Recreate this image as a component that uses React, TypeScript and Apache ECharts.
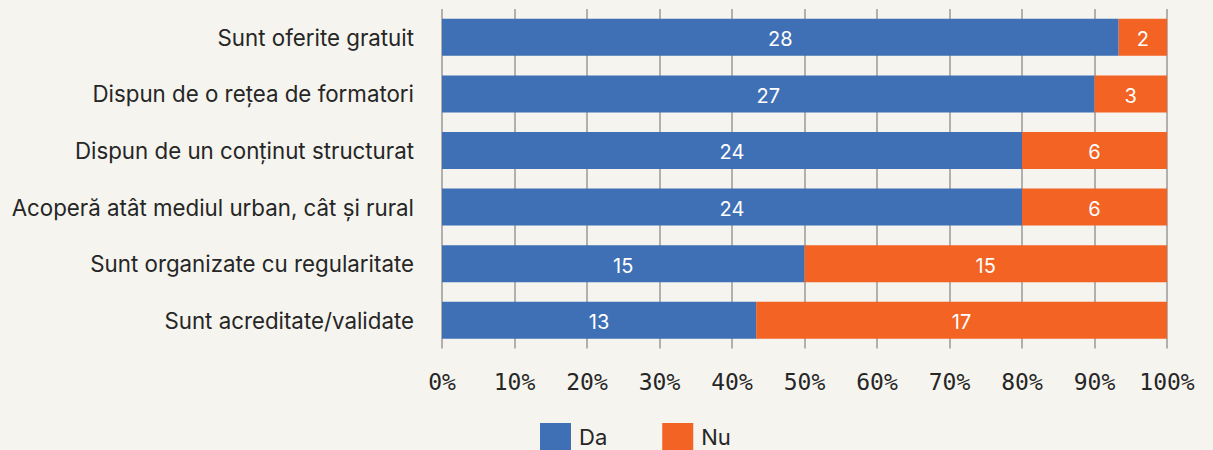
import React, { useEffect, useRef } from "react";
import * as echarts from "echarts";

const categories = [
  "Sunt oferite gratuit",
  "Dispun de o rețea de formatori",
  "Dispun de un conținut structurat",
  "Acoperă atât mediul urban, cât și rural",
  "Sunt organizate cu regularitate",
  "Sunt acreditate/validate",
];
const daCounts = [28, 27, 24, 24, 15, 13];
const nuCounts = [2, 3, 6, 6, 15, 17];
const xTicks = [0, 10, 20, 30, 40, 50, 60, 70, 80, 90, 100];

const BLUE = "#3f6fb5";
const ORANGE = "#f26324";
const BG = "#f5f4ee";
const TEXT = "#262626";

export default function App() {
  const ref = useRef<HTMLDivElement>(null);
  useEffect(() => {
    document.body.style.margin = "0";
    const chart = echarts.init(ref.current!, null, { renderer: "svg" });
    const pct = (a: number[], i: number) => (a[i] / (daCounts[i] + nuCounts[i])) * 100;
    const label = (arr: number[]) => ({
      show: true,
      position: "inside",
      color: "#fff",
      fontSize: 20,
      fontFamily: "Inter",
      offset: [0, 2],
      formatter: (p: any) => String(arr[p.dataIndex]),
    });
    chart.setOption({
      animation: false,
      backgroundColor: BG,
      textStyle: { fontFamily: "Inter" },
      grid: { left: 442, right: 46, top: 9, bottom: 101.5, containLabel: false },
      legend: {
        left: 540,
        top: 423,
        padding: 0,
        icon: "rect",
        itemWidth: 31,
        itemHeight: 28,
        itemGap: 55,
        textStyle: { fontSize: 22, color: TEXT, fontFamily: "Inter", padding: [0, 0, 0, 3] },
        data: ["Da", "Nu"],
      },
      xAxis: {
        type: "value",
        min: xTicks[0],
        max: xTicks[xTicks.length - 1],
        interval: 10,
        axisLine: { show: false },
        axisTick: { show: false },
        splitLine: { show: true, lineStyle: { color: "#9a9a9a", width: 1.5 } },
        axisLabel: {
          formatter: "{value}%",
          margin: 22,
          fontSize: 23,
          color: TEXT,
          fontFamily: "DejaVu Sans Mono",
        },
      },
      yAxis: {
        type: "category",
        inverse: true,
        data: categories,
        axisLine: { show: false },
        axisTick: { show: false },
        axisLabel: { margin: 28, fontSize: 22.3, color: TEXT, fontFamily: "Inter" },
      },
      series: [
        {
          name: "Da",
          type: "bar",
          stack: "t",
          barWidth: 37,
          itemStyle: { color: BLUE },
          label: label(daCounts),
          data: daCounts.map((_, i) => pct(daCounts, i)),
        },
        {
          name: "Nu",
          type: "bar",
          stack: "t",
          barWidth: 37,
          itemStyle: { color: ORANGE },
          label: label(nuCounts),
          data: nuCounts.map((_, i) => pct(nuCounts, i)),
        },
      ],
    });
    return () => chart.dispose();
  }, []);
  return <div ref={ref} style={{ width: 1213, height: 450, position: "absolute", left: 0, top: 0 }} />;
}
